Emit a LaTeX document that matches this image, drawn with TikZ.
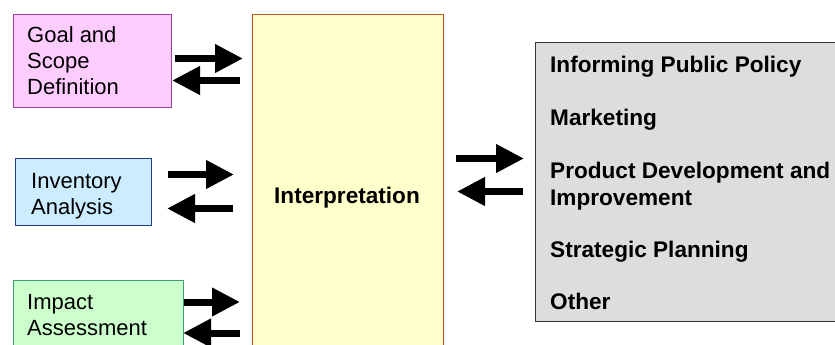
\documentclass[tikz,border=0pt]{standalone}
\usepackage{fontspec}
\setmainfont{Liberation Sans}
\usetikzlibrary{arrows.meta,calc}
\definecolor{goalfill}{HTML}{FFCCFF}
\definecolor{goalline}{HTML}{A040A0}
\definecolor{invfill}{HTML}{CCECFF}
\definecolor{invline}{HTML}{1F3F8F}
\definecolor{impfill}{HTML}{CCFFCC}
\definecolor{impline}{HTML}{40A070}
\definecolor{intfill}{HTML}{FFFFCC}
\definecolor{intline}{HTML}{B85A1C}
\definecolor{appfill}{HTML}{DDDDDD}
\definecolor{appline}{HTML}{333333}
\begin{document}
\begin{tikzpicture}[x=1pt,y=-1pt,
  box/.style={draw, line width=1pt, anchor=north west, inner sep=0pt},
  lbl/.style={anchor=base west, inner sep=0pt, align=left, font=\fontsize{22}{26}\selectfont},
  blbl/.style={anchor=base west, inner sep=0pt, align=left, font=\fontsize{22.6}{27}\selectfont\bfseries},
  fat/.style={line width=7pt, -{Triangle[length=28pt,width=27pt]}}]
\useasboundingbox (0,0) rectangle (835,345);
\clip (0,0) rectangle (835,345);
% boxes
\node[box, fill=goalfill, draw=goalline, minimum width=158pt, minimum height=93pt] (goal) at (13,14) {};
\node[box, fill=invfill, draw=invline, minimum width=136pt, minimum height=67pt] (inv) at (15,158) {};
\node[box, fill=impfill, draw=impline, minimum width=170pt, minimum height=90pt] (imp) at (13,280) {};
\node[box, fill=intfill, draw=intline, minimum width=191pt, minimum height=350pt] (interp) at (252,14) {};
\node[box, fill=appfill, draw=appline, minimum width=320pt, minimum height=279pt] (apps) at (535,42) {};
% texts (base anchor = last line's baseline)
\node[lbl] (goalt) at (27,95) {Goal and\\Scope\\Definition};
\node[lbl] (invt) at (31,214) {Inventory\\Analysis};
\node[lbl] (impt) at (27,335) {Impact\\Assessment};
\node[blbl, anchor=base] (intt) at (347,203) {Interpretation};
\node[blbl] (a1) at (550,73) {Informing Public Policy};
\node[blbl] (a2) at (550,125) {Marketing};
\node[blbl] (a3) at (550,205) {Product Development and\\Improvement};
\node[blbl] (a4) at (550,257) {Strategic Planning};
\node[blbl] (a5) at (550,309) {Other};
% arrows
\draw[fat] (goal.east) ++(3,-2.5) -- ++(68,0);
\draw[fat] (interp.west |- goal.east) ++(-12,19.5) -- ++(-68,0);
\draw[fat] (inv.east) ++(16,-17.5) -- ++(66,0);
\draw[fat] (interp.west |- inv.east) ++(-19,16.5) -- ++(-66,0);
\draw[fat] ($(imp.north east)+(0,22)$) -- ++(56,0);
\draw[fat] ($(interp.west |- imp.north east)+(-12,53)$) -- ++(-57,0);
\draw[fat] ($(interp.east |- apps.west)+(12,-23.5)$) -- ++(68,0);
\draw[fat] ($(apps.west)+(-12,9.5)$) -- ++(-66,0);
\end{tikzpicture}
\end{document}
